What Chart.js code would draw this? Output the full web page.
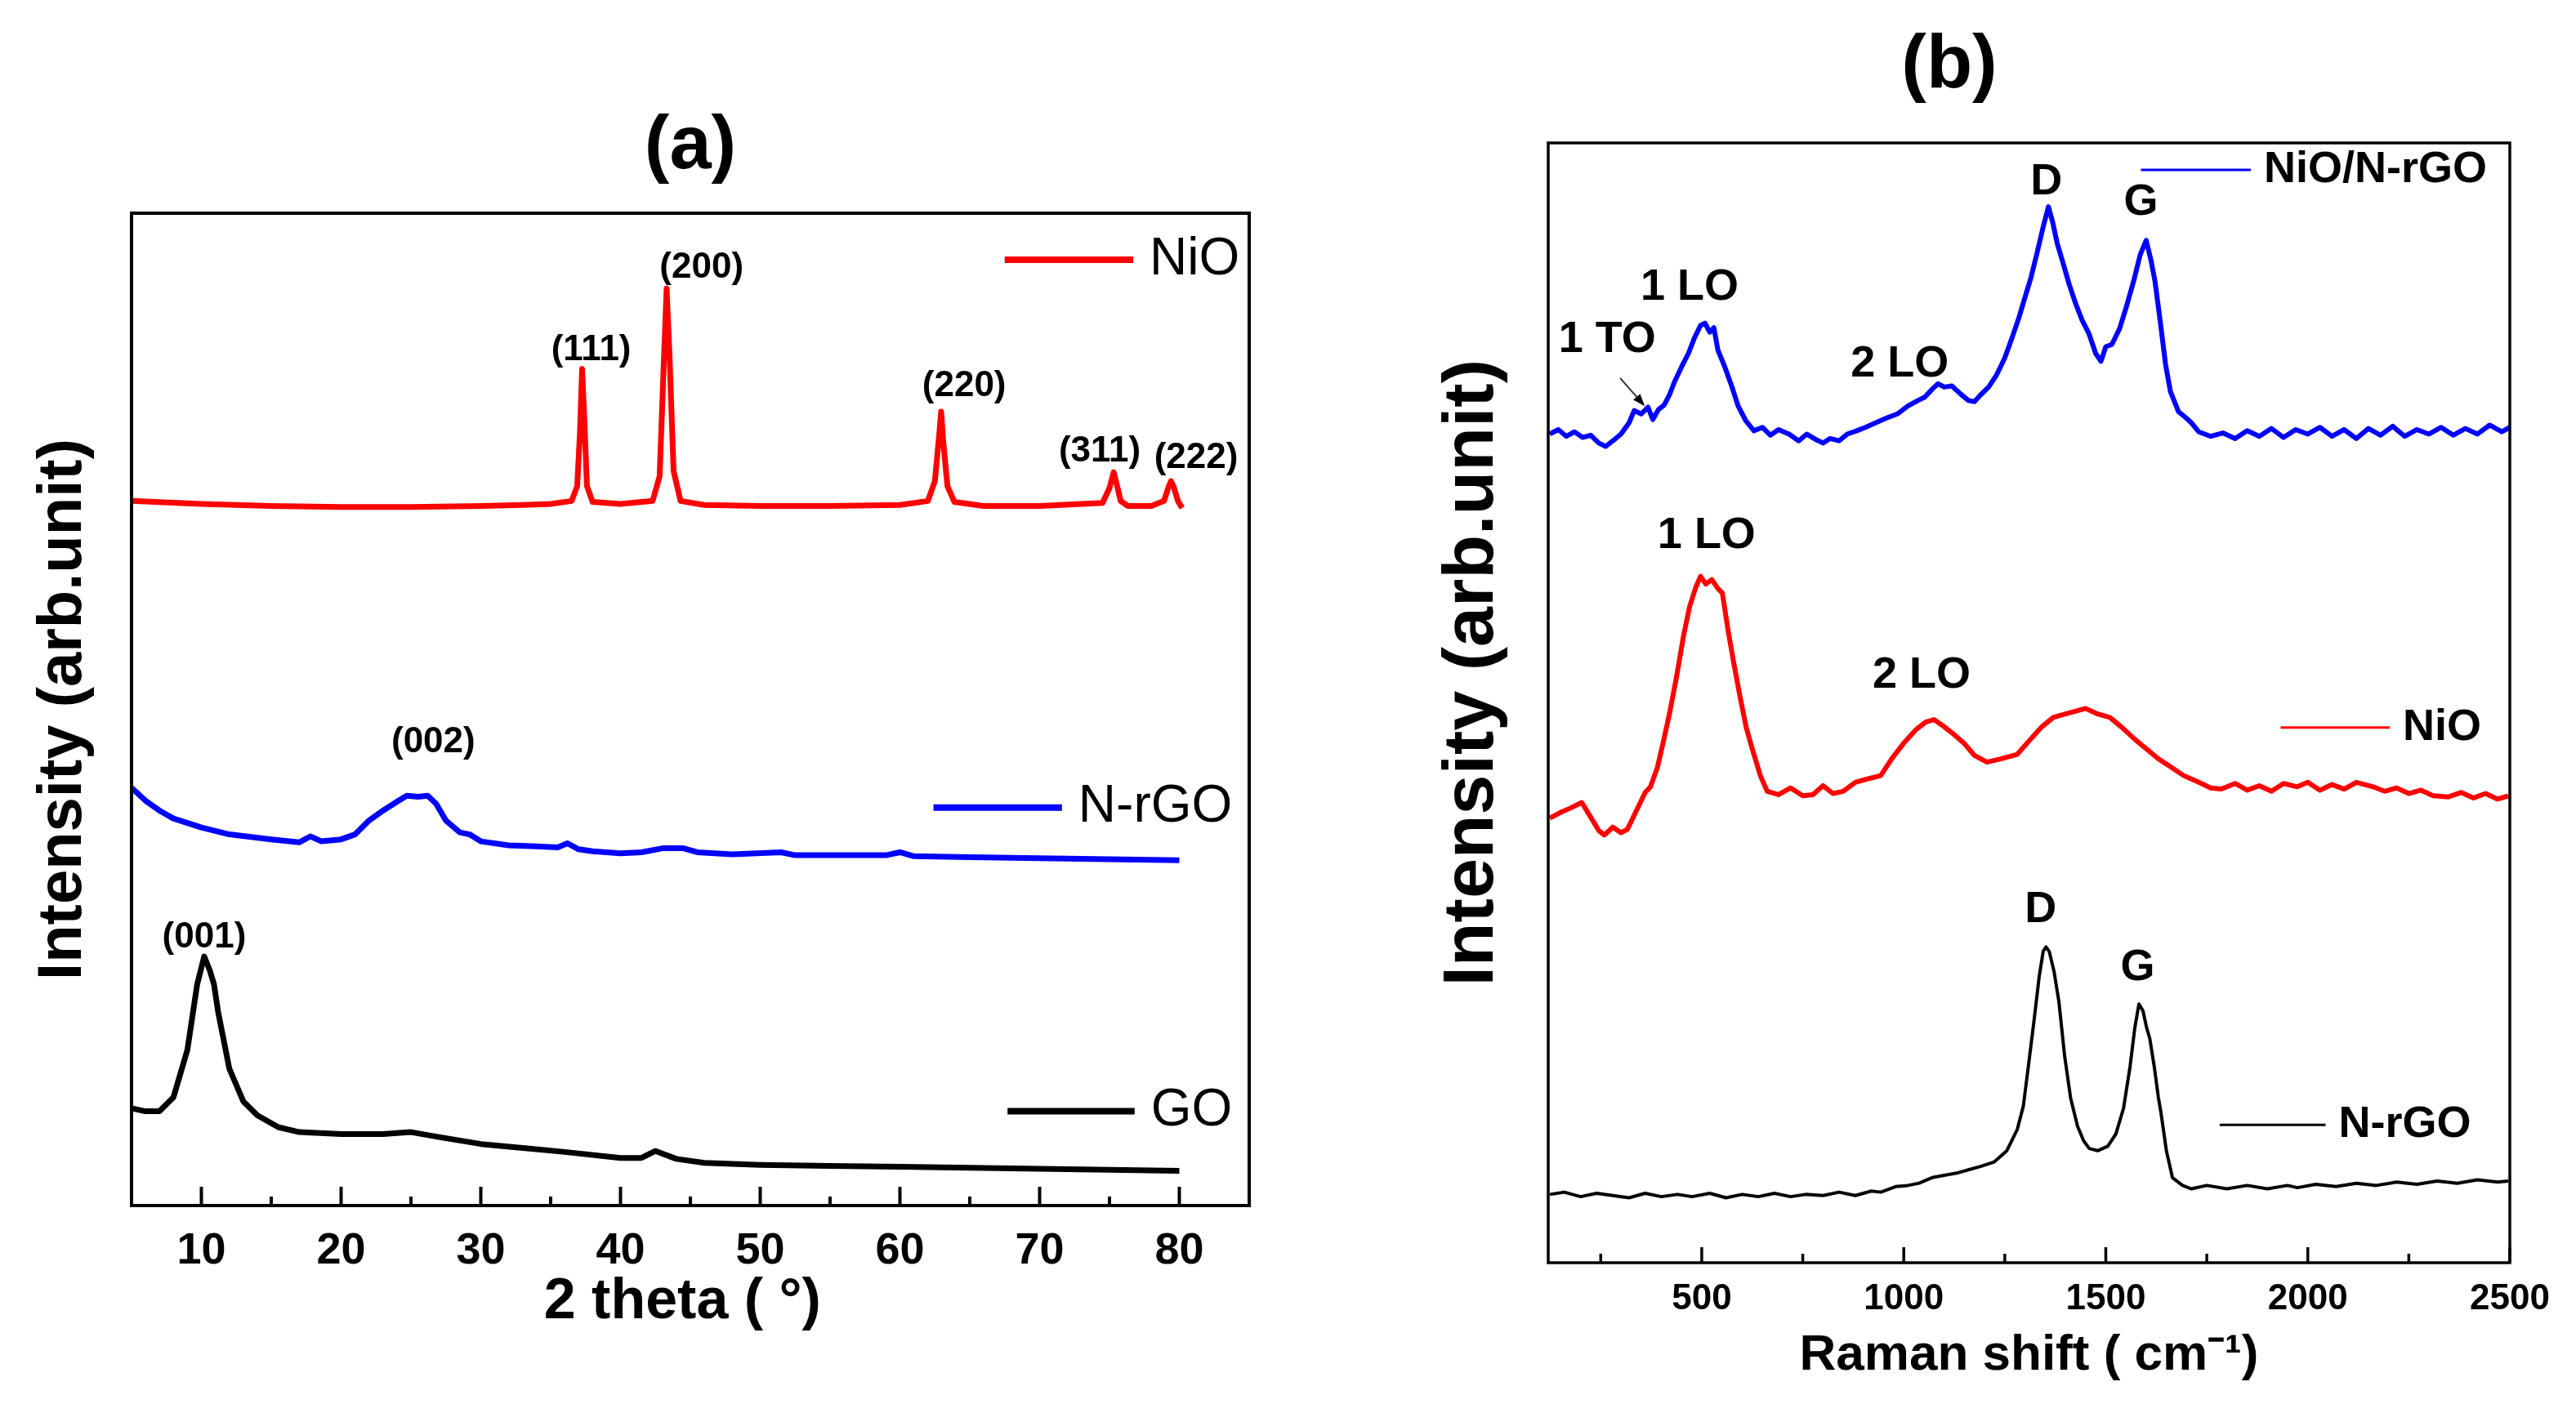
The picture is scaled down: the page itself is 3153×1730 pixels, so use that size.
<!DOCTYPE html>
<html>
<head>
<meta charset="utf-8">
<script src="https://cdn.jsdelivr.net/npm/chart.js@4.4.0/dist/chart.umd.min.js"></script>
<style>
  html, body { margin: 0; padding: 0; background: #fff; width: 3153px; height: 1730px; overflow: hidden; }
  #xrd { position: absolute; left: 0; top: 0; }
  #raman { position: absolute; left: 1600px; top: 0; }
</style>
</head>
<body>
<canvas id="xrd" width="1600" height="1730"></canvas>
<canvas id="raman" width="1553" height="1730"></canvas>
<script>
// ---- (a) XRD, 2 theta in degrees, intensity in arbitrary offset units ----
const xrdTicks = [10, 20, 30, 40, 50, 60, 70, 80];
const xrdMinor = [15, 25, 35, 45, 55, 65, 75];

const niOTheta = [5, 10, 15, 20, 25, 30, 33, 35,
  36.5, 36.9, 37.1, 37.25, 37.4, 37.6, 38.0,
  40, 42.3, 42.8, 43.1, 43.3, 43.5, 43.8, 44.3,
  46, 50, 55, 60,
  62.0, 62.5, 62.8, 62.95, 63.1, 63.4, 63.9,
  66, 70,
  74.5, 75.0, 75.3, 75.5, 75.8, 76.3,
  78, 78.9, 79.2, 79.4, 79.6, 79.9, 80.2];
const niOXrd = [71.0, 70.7, 70.5, 70.4, 70.4, 70.5, 70.6, 70.7,
  71.0, 72.5, 78.0, 84.3, 79.5, 72.5, 70.9,
  70.7, 71.0, 73.5, 85.0, 92.4, 86.0, 74.0, 71.0,
  70.6, 70.5, 70.5, 70.6,
  71.0, 73.0, 77.5, 80.0, 77.0, 72.5, 70.9,
  70.5, 70.5,
  70.8, 72.3, 73.9, 72.8, 71.0, 70.5,
  70.5, 71.0, 72.3, 73.0, 72.4, 71.0, 70.3];

const nrgoTheta = [5, 6, 7, 8, 10, 12, 15, 17, 17.8, 18.6,
  20, 21, 22, 23, 24, 24.7, 25.5, 26.2, 26.8, 27.5,
  28.5, 29.2, 30, 32, 34, 35.5, 36.2, 37, 38, 40,
  41.5, 43, 44.5, 45.5, 48, 51.5, 52.5, 55, 59, 60,
  61, 65, 70, 75, 80];
const nrgoXrd = [42.1, 40.8, 39.8, 39.0, 38.1, 37.4, 36.9, 36.6, 37.2, 36.7,
  36.9, 37.4, 38.8, 39.8, 40.7, 41.3, 41.2, 41.3, 40.5, 38.8,
  37.6, 37.4, 36.7, 36.3, 36.2, 36.1, 36.5, 35.9, 35.7, 35.5,
  35.6, 36.0, 36.0, 35.6, 35.4, 35.6, 35.3, 35.3, 35.3, 35.6,
  35.2, 35.1, 35.0, 34.9, 34.8];

const goTheta = [5, 6, 7, 8, 9, 9.7, 10.2, 10.6, 10.9, 11.2,
  12, 13, 14, 15.5, 17, 20, 23, 25, 27, 30,
  33, 36, 40, 41.5, 42.5, 44, 46, 50, 55, 60,
  70, 80];
const goXrd = [9.8, 9.5, 9.5, 10.9, 15.7, 22.3, 25.1, 23.7, 22.3, 19.5,
  13.8, 10.5, 9.1, 7.9, 7.4, 7.2, 7.2, 7.4, 6.9, 6.2,
  5.8, 5.4, 4.8, 4.8, 5.5, 4.7, 4.3, 4.1, 4.0, 3.9,
  3.7, 3.5];

// ---- (b) Raman, shift in cm-1 ----
const ramanTicks = [500, 1000, 1500, 2000, 2500];
const ramanMinor = [250, 750, 1250, 1750, 2250];

const compShift = [124, 145, 165, 185, 205, 225, 245, 262, 280, 300,
  320, 333, 350, 367, 379, 393, 407, 420, 433, 450,
  467, 482, 497, 508, 520, 530, 540, 557, 574, 590,
  609, 629, 650, 670, 690, 716, 740, 760, 783, 800,
  817, 840, 860, 884, 905, 930, 955, 984, 1010, 1035,
  1052, 1070, 1085, 1100, 1119, 1140, 1160, 1175, 1190, 1210,
  1230, 1250, 1268, 1285, 1300, 1315, 1330, 1345, 1358, 1368,
  1380, 1394, 1410, 1425, 1441, 1458, 1475, 1488, 1500, 1515,
  1534, 1552, 1570, 1585, 1600, 1612, 1622, 1635, 1648, 1660,
  1680, 1700, 1712, 1730, 1760, 1790, 1820, 1850, 1880, 1910,
  1940, 1970, 2000, 2030, 2060, 2090, 2120, 2150, 2180, 2210,
  2240, 2270, 2300, 2330, 2360, 2390, 2420, 2450, 2480, 2500];
const compRaman = [74.0, 74.4, 73.8, 74.2, 73.7, 73.9, 73.2, 72.9, 73.4, 74.0,
  75.0, 76.1, 75.8, 76.4, 75.3, 76.2, 76.6, 77.5, 78.7, 80.0,
  81.2, 82.6, 83.7, 83.9, 83.1, 83.5, 81.5, 80.0, 78.3, 76.5,
  75.2, 74.3, 74.6, 73.9, 74.4, 74.0, 73.4, 74.0, 73.5, 73.2,
  73.6, 73.4, 74.0, 74.3, 74.6, 75.0, 75.4, 75.8, 76.5, 77.0,
  77.3, 78.0, 78.5, 78.2, 78.3, 77.6, 77.0, 76.9, 77.5, 78.2,
  79.3, 80.8, 82.6, 84.4, 86.2, 88.0, 90.2, 92.5, 94.3, 93.0,
  91.0, 89.3, 87.3, 85.7, 84.2, 83.0, 81.2, 80.5, 81.8, 82.0,
  83.4, 85.5, 87.8, 90.0, 91.3, 89.5, 87.6, 84.0, 80.2, 77.8,
  76.0, 75.4, 75.0, 74.2, 73.8, 74.1, 73.6, 74.3, 73.8, 74.5,
  73.7, 74.4, 74.0, 74.6, 73.8, 74.4, 73.6, 74.5, 73.9, 74.7,
  73.8, 74.4, 74.0, 74.6, 73.9, 74.5, 74.0, 74.8, 74.2, 74.6];

const niOShift = [124, 150, 175, 203, 225, 245, 259, 280, 300, 316,
  340, 360, 373, 390, 401, 420, 437, 455, 470, 485,
  497, 510, 525, 540, 551, 565, 578, 595, 610, 625,
  645, 662, 690, 720, 750, 775, 800, 825, 850, 880,
  910, 943, 970, 1000, 1030, 1055, 1075, 1095, 1120, 1149,
  1175, 1206, 1240, 1281, 1310, 1340, 1370, 1400, 1430, 1450,
  1480, 1510, 1540, 1570, 1600, 1630, 1660, 1693, 1730, 1760,
  1786, 1820, 1850, 1880, 1910, 1940, 1974, 2000, 2030, 2060,
  2090, 2120, 2162, 2190, 2220, 2250, 2280, 2310, 2348, 2380,
  2410, 2440, 2470, 2496];
const niORaman = [39.7, 40.2, 40.6, 41.1, 39.8, 38.6, 38.2, 38.9, 38.4, 38.7,
  40.5, 42.0, 42.5, 44.2, 45.9, 49.0, 52.2, 56.0, 58.6, 60.3,
  61.3, 60.6, 61.0, 60.2, 59.8, 56.5, 53.8, 50.5, 47.8, 45.9,
  43.5, 42.1, 41.8, 42.4, 41.7, 41.8, 42.6, 41.9, 42.1, 42.9,
  43.2, 43.5, 45.0, 46.4, 47.6, 48.3, 48.5, 48.0, 47.3, 46.4,
  45.3, 44.7, 45.0, 45.4, 46.6, 47.8, 48.7, 49.0, 49.3, 49.5,
  49.0, 48.7, 47.8, 46.8, 45.9, 45.0, 44.3, 43.5, 42.9, 42.4,
  42.3, 42.8, 42.2, 42.6, 42.1, 42.8, 42.5, 42.9, 42.2, 42.7,
  42.3, 42.9, 42.5, 42.1, 42.4, 41.9, 42.2, 41.7, 41.6, 42.0,
  41.5, 41.9, 41.4, 41.7];

const nrgoShift = [124, 160, 200, 240, 280, 320, 360, 400, 440, 476,
  520, 560, 600, 640, 680, 720, 757, 800, 840, 880,
  920, 943, 980, 1010, 1038, 1070, 1100, 1131, 1160, 1190,
  1224, 1255, 1281, 1296, 1309, 1322, 1335, 1345, 1352, 1360,
  1372, 1384, 1398, 1413, 1430, 1445, 1459, 1480, 1505, 1525,
  1544, 1560, 1572, 1582, 1592, 1601, 1609, 1620, 1630, 1637,
  1650, 1665, 1690, 1712, 1750, 1800, 1850, 1900, 1950, 1974,
  2020, 2070, 2120, 2170, 2220, 2270, 2320, 2370, 2420, 2470,
  2496];
const nrgoRaman = [6.1, 6.3, 5.9, 6.2, 6.0, 5.8, 6.2, 5.9, 6.1, 5.9,
  6.2, 5.8, 6.1, 5.9, 6.2, 5.9, 6.1, 6.0, 6.3, 6.0,
  6.4, 6.3, 6.8, 6.9, 7.1, 7.6, 7.8, 8.0, 8.3, 8.6,
  9.0, 10.0, 11.9, 14.0, 17.7, 21.5, 25.5, 27.8, 28.2, 27.8,
  26.0, 23.3, 18.5, 14.7, 12.2, 10.9, 10.2, 10.0, 10.4, 11.5,
  13.8, 17.5, 21.0, 23.1, 22.5, 21.0, 20.0, 17.5, 14.8, 13.3,
  10.0, 7.6, 6.9, 6.6, 6.9, 6.6, 6.9, 6.6, 6.9, 6.7,
  7.0, 6.8, 7.1, 6.9, 7.2, 7.0, 7.3, 7.1, 7.4, 7.2,
  7.3];

const pts = (xs, ys) => xs.map((x, i) => ({ x, y: ys[i] }));

Chart.defaults.font.family = "'Liberation Sans', Arial, sans-serif";
Chart.defaults.color = "#000";

// frame, inward ticks, peak labels, in-plot legends, panel letter
const overlay = {
  id: "overlay",
  afterDraw(chart, args, o) {
    const { ctx, chartArea: a, scales: { x, y } } = chart;
    ctx.save();
    ctx.strokeStyle = "#000";
    ctx.lineWidth = o.frame;
    ctx.strokeRect(a.left, a.top, a.right - a.left, a.bottom - a.top);

    ctx.lineWidth = o.tickWidth;
    ctx.beginPath();
    x.ticks.forEach(t => {
      const px = x.getPixelForValue(t.value);
      ctx.moveTo(px, a.bottom);
      ctx.lineTo(px, a.bottom - o.major);
    });
    o.minor.forEach(v => {
      const px = x.getPixelForValue(v);
      ctx.moveTo(px, a.bottom);
      ctx.lineTo(px, a.bottom - o.minorLen);
    });
    ctx.stroke();

    ctx.fillStyle = "#000";
    ctx.textAlign = "center";
    ctx.textBaseline = "middle";
    ctx.font = o.labelFont;
    o.labels.forEach(l => ctx.fillText(l.t, x.getPixelForValue(l.x), y.getPixelForValue(l.y)));

    o.legends.forEach(l => {
      const ds = chart.data.datasets[l.ds];
      const py = y.getPixelForValue(l.y);
      const x1 = x.getPixelForValue(l.x1);
      ctx.strokeStyle = ds.borderColor;
      ctx.lineWidth = o.legendLine;
      ctx.beginPath();
      ctx.moveTo(x.getPixelForValue(l.x0), py);
      ctx.lineTo(x1, py);
      ctx.stroke();
      ctx.font = o.legendFont;
      ctx.textAlign = "left";
      ctx.fillText(ds.label, x1 + o.legendGap, py);
    });

    (o.arrows || []).forEach(r => {
      const x0 = x.getPixelForValue(r.x0), y0 = y.getPixelForValue(r.y0);
      const x1 = x.getPixelForValue(r.x1), y1 = y.getPixelForValue(r.y1);
      const ang = Math.atan2(y1 - y0, x1 - x0);
      ctx.strokeStyle = "#333";
      ctx.lineWidth = 2;
      ctx.beginPath();
      ctx.moveTo(x0, y0);
      ctx.lineTo(x1 - 10 * Math.cos(ang), y1 - 10 * Math.sin(ang));
      ctx.stroke();
      ctx.fillStyle = "#000";
      ctx.beginPath();
      ctx.moveTo(x1, y1);
      ctx.lineTo(x1 - 16 * Math.cos(ang - 0.35), y1 - 16 * Math.sin(ang - 0.35));
      ctx.lineTo(x1 - 16 * Math.cos(ang + 0.35), y1 - 16 * Math.sin(ang + 0.35));
      ctx.closePath();
      ctx.fill();
    });

    ctx.fillStyle = "#000";
    ctx.font = o.panelFont;
    ctx.textAlign = "center";
    ctx.fillText(o.panel, o.panelX, o.panelY);
    ctx.restore();
  }
};

function line(label, data, color, width) {
  return { label, data, borderColor: color, borderWidth: width, pointRadius: 0, tension: 0, borderJoinStyle: "round" };
}

new Chart(document.getElementById("xrd"), {
  type: "line",
  data: {
    datasets: [
      line("NiO", pts(niOTheta, niOXrd), "#ff0000", 7),
      line("N-rGO", pts(nrgoTheta, nrgoXrd), "#0000ff", 7),
      line("GO", pts(goTheta, goXrd), "#000000", 7)
    ]
  },
  options: {
    responsive: false,
    animation: false,
    devicePixelRatio: 1,
    layout: { padding: { left: 0, right: 71, top: 261, bottom: 0 } },
    plugins: {
      legend: { display: false },
      tooltip: { enabled: false },
      overlay: {
        frame: 4, tickWidth: 4, major: 23, minorLen: 11, minor: xrdMinor,
        labelFont: "bold 44px 'Liberation Sans', Arial, sans-serif",
        labels: [
          { t: "(111)", x: 37.9, y: 86.2 },
          { t: "(200)", x: 45.8, y: 94.5 },
          { t: "(220)", x: 64.6, y: 82.6 },
          { t: "(311)", x: 74.3, y: 76.0 },
          { t: "(222)", x: 81.2, y: 75.3 },
          { t: "(002)", x: 26.6, y: 46.7 },
          { t: "(001)", x: 10.2, y: 27.0 }
        ],
        legendFont: "64px 'Liberation Sans', Arial, sans-serif",
        legendLine: 8, legendGap: 20,
        legends: [
          { ds: 0, x0: 67.5, x1: 76.7, y: 95.3 },
          { ds: 1, x0: 62.4, x1: 71.6, y: 40.1 },
          { ds: 2, x0: 67.7, x1: 76.8, y: 9.5 }
        ],
        panel: "(a)", panelX: 845, panelY: 181,
        panelFont: "bold 92px 'Liberation Sans', Arial, sans-serif"
      }
    },
    scales: {
      x: {
        type: "linear", min: 5, max: 85,
        grid: { display: false, drawTicks: false },
        border: { display: false },
        afterBuildTicks: s => { s.ticks = xrdTicks.map(v => ({ value: v })); },
        afterFit: s => { s.height = 254; },
        ticks: { autoSkip: false, maxRotation: 0, padding: 24, font: { size: 54, weight: "bold" }, callback: v => String(v) },
        title: { display: true, text: "2 theta ( °) ", font: { size: 70, weight: "bold" }, padding: { top: 0, bottom: 93 } }
      },
      y: {
        min: 0, max: 100,
        grid: { display: false, drawTicks: false },
        border: { display: false },
        ticks: { display: false },
        afterFit: s => { s.width = 161; },
        title: { display: true, text: "Intensity (arb.unit)", font: { size: 76, weight: "bold" }, padding: 32 }
      }
    }
  },
  plugins: [overlay]
});

new Chart(document.getElementById("raman"), {
  type: "line",
  data: {
    datasets: [
      line("NiO/N-rGO", pts(compShift, compRaman), "#0000ff", 6),
      line("NiO", pts(niOShift, niORaman), "#ff0000", 6),
      line("N-rGO", pts(nrgoShift, nrgoRaman), "#000000", 4)
    ]
  },
  options: {
    responsive: false,
    animation: false,
    devicePixelRatio: 1,
    layout: { padding: { left: 0, right: 81, top: 175, bottom: 0 } },
    plugins: {
      legend: { display: false },
      tooltip: { enabled: false },
      overlay: {
        frame: 3.5, tickWidth: 3.5, major: 19, minorLen: 11, minor: ramanMinor,
        labelFont: "bold 54px 'Liberation Sans', Arial, sans-serif",
        labels: [
          { t: "D", x: 1353, y: 96.5 },
          { t: "G", x: 1587, y: 94.7 },
          { t: "1 LO", x: 470, y: 87.1 },
          { t: "1 TO", x: 266, y: 82.4 },
          { t: "2 LO", x: 990, y: 80.2 },
          { t: "1 LO", x: 512, y: 64.9 },
          { t: "2 LO", x: 1044, y: 52.4 },
          { t: "D", x: 1339, y: 31.5 },
          { t: "G", x: 1579, y: 26.3 }
        ],
        arrows: [{ x0: 298, y0: 79.0, x1: 359, y1: 76.5 }],
        legendFont: "bold 54px 'Liberation Sans', Arial, sans-serif",
        legendLine: 3, legendGap: 16,
        legends: [
          { ds: 0, x0: 1587, x1: 1859, y: 97.6 },
          { ds: 1, x0: 1933, x1: 2203, y: 47.8 },
          { ds: 2, x0: 1782, x1: 2044, y: 12.3 }
        ],
        panel: "(b)", panelX: 786, panelY: 82,
        panelFont: "bold 92px 'Liberation Sans', Arial, sans-serif"
      }
    },
    scales: {
      x: {
        type: "linear", min: 120, max: 2500,
        grid: { display: false, drawTicks: false },
        border: { display: false },
        afterBuildTicks: s => { s.ticks = ramanTicks.map(v => ({ value: v })); },
        afterFit: s => { s.height = 184; },
        ticks: { autoSkip: false, maxRotation: 0, padding: 18, font: { size: 44, weight: "bold" }, callback: v => String(v) },
        title: { display: true, text: "Raman shift ( cm⁻¹)", font: { size: 62, weight: "bold" }, padding: { top: 0, bottom: 33 } }
      },
      y: {
        min: 0, max: 100,
        grid: { display: false, drawTicks: false },
        border: { display: false },
        ticks: { display: false },
        afterFit: s => { s.width = 295; },
        title: { display: true, text: "   Intensity (arb.unit)", font: { size: 88, weight: "bold" }, padding: 150 }
      }
    }
  },
  plugins: [overlay]
});
</script>
</body>
</html>
